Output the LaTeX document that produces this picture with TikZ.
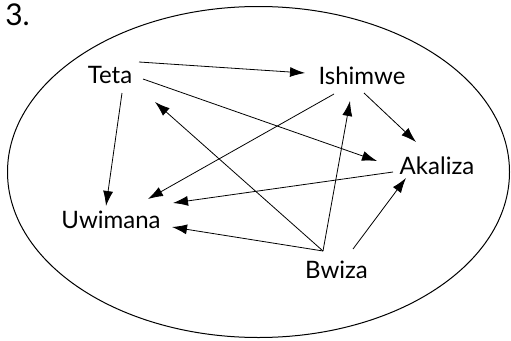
\documentclass[tikz,border=0pt]{standalone}
\usepackage{fontspec}
\setmainfont{Lato}
\usetikzlibrary{arrows.meta}

\begin{document}
\begin{tikzpicture}[x=1pt, y=-1pt,
	kid/.style={font=\fontsize{24}{28}\selectfont, inner sep=0pt,
		text height=17pt, text depth=0pt},
	link/.style={-{Latex[length=15pt,width=10pt]}, line width=0.8pt}]

	\useasboundingbox (0,0) rectangle (511,340);

	% the set
	\draw [line width=1pt] (258.5,172) ellipse [x radius=251, y radius=165.5];

	% names
	\node[kid, font=\fontsize{30}{34}\selectfont, text height=21.5pt] (num) at (17.5,15) {3.};
	\node[kid] (teta)    at (110,74.5)   {Teta};
	\node[kid] (ishimwe) at (362,75.5)   {Ishimwe};
	\node[kid] (akaliza) at (437,165.5)  {Akaliza};
	\node[kid] (uwimana) at (111,219.5)  {Uwimana};
	\node[kid] (bwiza)   at (336.5,269.5) {Bwiza};

	% relation
	\draw [link] ([shift={(29,-12.5)}]teta.center) -- ([shift={(-57,-2.5)}]ishimwe.center);
	\draw [link] ([shift={(33,4.5)}]teta.center) -- ([shift={(-60,-4.5)}]akaliza.center);
	\draw [link] ([shift={(12,18.5)}]teta.center) -- ([shift={(-5,-13.5)}]uwimana.center);
	\draw [link] ([shift={(2,17.5)}]ishimwe.center) -- ([shift={(-21,-23.5)}]akaliza.center);
	\draw [link] ([shift={(-28,18.5)}]ishimwe.center) -- ([shift={(37,-20.5)}]uwimana.center);
	\draw [link] ([shift={(-44,6.5)}]akaliza.center) -- ([shift={(62,-16.5)}]uwimana.center);
	\draw [link] ([shift={(-13.5,-18.5)}]bwiza.center) -- ([shift={(45,27.5)}]teta.center);
	\draw [link] ([shift={(-13.5,-18.5)}]bwiza.center) -- ([shift={(-12,25.5)}]ishimwe.center);
	\draw [link] ([shift={(-13.5,-18.5)}]bwiza.center) -- ([shift={(61,7.5)}]uwimana.center);
	\draw [link] ([shift={(16.5,-20.5)}]bwiza.center) -- ([shift={(-31,12.5)}]akaliza.center);

\end{tikzpicture}
\end{document}
